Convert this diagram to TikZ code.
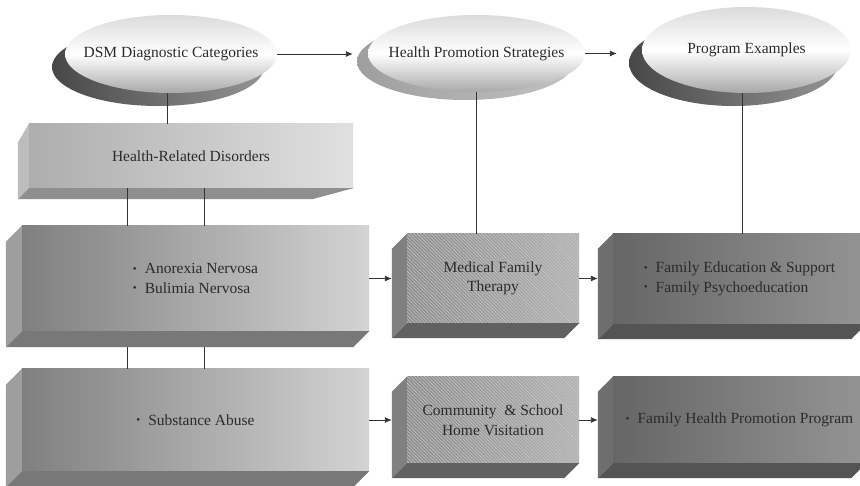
\documentclass[tikz,border=0pt]{standalone}
\usepackage{fontspec}
\setmainfont{Liberation Serif}
\usetikzlibrary{shapes.geometric,arrows.meta,patterns.meta,backgrounds}
\definecolor{txt}{HTML}{2B2B2B}
\definecolor{conncol}{HTML}{333333}
\newcommand\bul{{\fontsize{11}{11}\selectfont\raisebox{1.5pt}{•}}\hspace{8pt}}
\newcommand\boxfaces[4]{%
  \fill[#3] (#1.north west) -- ++(-#2pt,-#2pt) -- ([xshift=-#2pt,yshift=-#2pt]#1.south west) -- (#1.south west) -- cycle;
  \fill[#4] (#1.south west) -- ([xshift=-#2pt,yshift=-#2pt]#1.south west) -- ([xshift=-#2pt,yshift=-#2pt]#1.south east) -- (#1.south east) -- cycle;
}
\begin{document}
\begin{tikzpicture}[x=1pt,y=-1pt,
  lbl/.style={font=\fontsize{15.5}{19.5}\selectfont, text=txt},
  oval/.style={ellipse, inner sep=0pt, top color=black!14, bottom color=black!34, middle color=white},
  shadow/.style={ellipse, inner sep=0pt},
  front/.style={rectangle, inner sep=0pt, lbl, align=center},
  stripes/.style={pattern={Lines[angle=-45,distance=2.4pt,line width=0.55pt]}, pattern color=black!22},
  conn/.style={draw=conncol, line width=0.9pt},
  arr/.style={conn, -{Latex[length=7pt,width=6pt]}},
]
\useasboundingbox (0,0) rectangle (860,485);

% ---- ellipses ----
\node[shadow, minimum width=212pt, minimum height=78pt, left color=black!72, right color=black!42] (dsmsh) at (158,67) {};
\node[oval, minimum width=212pt, minimum height=78pt] (dsm) at (171,54) {};
\node[lbl] (dsmt) at (dsm.center) {DSM Diagnostic Categories};

\node[shadow, minimum width=217pt, minimum height=77pt, left color=black!38, right color=black!24] (hpsh) at (465.5,61.5) {};
\node[oval, minimum width=217pt, minimum height=77pt] (hp) at (476.5,53.5) {};
\node[lbl] (hpt) at (hp.center) {Health Promotion Strategies};

\node[shadow, minimum width=209pt, minimum height=86pt, left color=black!72, right color=black!42] (pesh) at (733.5,63) {};
\node[oval, minimum width=209pt, minimum height=86pt] (pe) at (746.5,50) {};
\node[lbl] (pet) at (pe.center) {Program Examples};

% ---- boxes (text nodes; fills on background layer) ----
\node[front, minimum width=324pt, minimum height=64pt] (hr) at (191,156) {Health-Related Disorders};
\node[front, minimum width=347pt, minimum height=105pt, align=left] (an) at (195.5,278.5) {\bul Anorexia Nervosa\\\bul Bulimia Nervosa};
\node[front, minimum width=347pt, minimum height=102pt, align=left] (sub) at (195.5,420) {\bul Substance Abuse};
\node[front, minimum width=172pt, minimum height=89pt] (med) at (493,278.5) {Medical Family\\Therapy};
\node[front, minimum width=172pt, minimum height=86pt] (com) at (493,420) {Community\ \ \& School\\Home Visitation};
\node[front, minimum width=253pt, minimum height=90pt, align=left] (fe) at (739.5,279) {\bul Family Education \& Support\\\bul Family Psychoeducation};
\node[front, minimum width=253pt, minimum height=86pt, align=left] (fh) at (739.5,420) {\bul Family Health Promotion Program};

\begin{scope}[on background layer]
  \fill[white] (0,0) rectangle (860,485);
  % Health-Related Disorders
  \shade[left color=black!32, right color=black!12] (hr.north west) rectangle (hr.south east);
  \fill[black!26] (hr.north west) -- ++(-11pt,-19pt) -- ([xshift=-11pt,yshift=-11pt]hr.south west) -- (hr.south west) -- cycle;
  \fill[black!44] (hr.south west) -- ([xshift=-11pt,yshift=-11pt]hr.south west) -- ([xshift=-41pt,yshift=-11pt]hr.south east) -- (hr.south east) -- cycle;
  % Anorexia / Substance
  \shade[left color=black!50, right color=black!17] (an.north west) rectangle (an.south east);
  \boxfaces{an}{16}{black!38}{black!53}
  \shade[left color=black!50, right color=black!17] (sub.north west) rectangle (sub.south east);
  \boxfaces{sub}{16}{black!38}{black!53}
  % Medical / Community
  \shade[shading angle=45, left color=black!45, right color=black!30] (med.north west) rectangle (med.south east);
  \fill[stripes] (med.north west) rectangle (med.south east);
  \boxfaces{med}{15}{black!50}{black!62}
  \shade[shading angle=45, left color=black!45, right color=black!30] (com.north west) rectangle (com.south east);
  \fill[stripes] (com.north west) rectangle (com.south east);
  \boxfaces{com}{15}{black!50}{black!62}
  % Family Education / Family Health
  \shade[shading angle=20, left color=black!60, right color=black!42] (fe.north west) rectangle (fe.south east);
  \boxfaces{fe}{15}{black!57}{black!67}
  \shade[shading angle=20, left color=black!60, right color=black!42] (fh.north west) rectangle (fh.south east);
  \boxfaces{fh}{15}{black!57}{black!67}
\end{scope}

% ---- connectors ----
\draw[arr] (dsm.east) -- ([xshift=-15pt]dsm.east -| hp.west);
\draw[arr] (hp.east) -- ([xshift=-25pt]hp.east -| pe.west);

\draw[conn] ([xshift=-4pt]dsm.south) -- ([xshift=-4pt]dsm.south |- hr.north);
\draw[conn] (hp.south) -- (hp.south |- med.north);
\draw[conn] ([xshift=-4pt]pe.south) -- ([xshift=-4pt]pe.south |- fe.north);

\draw[conn] ([xshift=99pt]hr.south west) -- ([xshift=99pt]hr.south west |- an.north);
\draw[conn] ([xshift=176pt]hr.south west) -- ([xshift=176pt]hr.south west |- an.north);
\draw[conn] ([xshift=106pt,yshift=-16pt]an.south west) -- ([xshift=106pt]an.south west |- sub.north);
\draw[conn] ([xshift=183pt,yshift=-16pt]an.south west) -- ([xshift=183pt]an.south west |- sub.north);

\draw[arr, shorten >=15pt] (an.east) -- (an.east -| med.west);
\draw[arr, shorten >=15pt] (sub.east) -- (sub.east -| com.west);
\draw[arr, shorten >=15pt] (med.east) -- (med.east -| fe.west);
\draw[arr, shorten >=15pt] (com.east) -- (com.east -| fh.west);
\end{tikzpicture}
\end{document}
